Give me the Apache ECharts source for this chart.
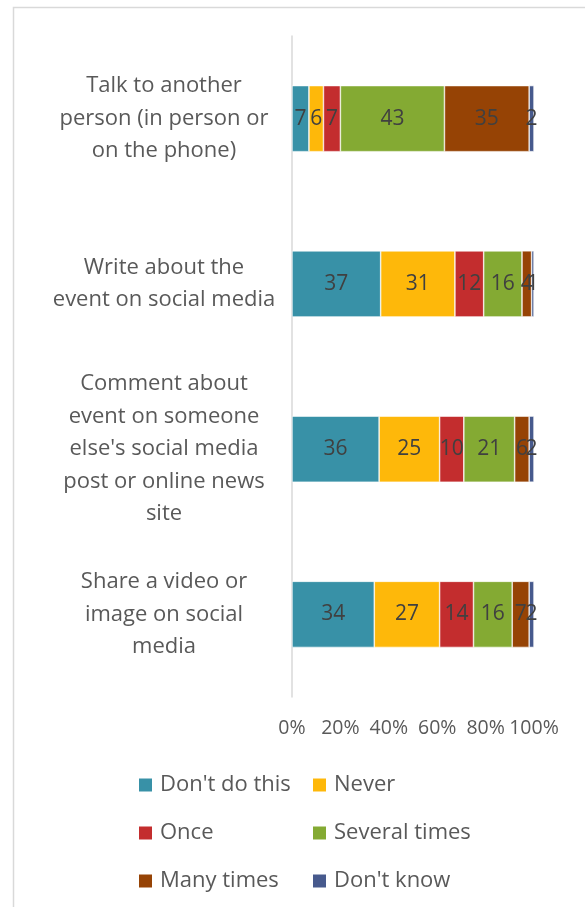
<!DOCTYPE html>
<html>
<head>
<meta charset="utf-8">
<script src="https://cdn.jsdelivr.net/npm/echarts@6/dist/echarts.min.js"></script>
<style>
  html, body { margin: 0; padding: 0; background: #ffffff; }
  #chart { width: 585px; height: 907px; }
</style>
</head>
<body>
<div id="chart"></div>
<script>
// Activities (top to bottom)
var categories = [
  "Talk to another\nperson (in person or\non the phone)",
  "Write about the\nevent on social media",
  "Comment about\nevent on someone\nelse's social media\npost or online news\nsite",
  "Share a video or\nimage on social\nmedia"
];

// Responses per activity, in the same order as the categories
var dontDoThis   = [7, 37, 36, 34];
var never        = [6, 31, 25, 27];
var once         = [7, 12, 10, 14];
var severalTimes = [43, 16, 21, 16];
var manyTimes    = [35, 4, 6, 7];
var dontKnow     = [2, 1, 2, 2];

var tickLabels = ["0%", "20%", "40%", "60%", "80%", "100%"];

var seriesDefs = [
  { name: "Don't do this", values: dontDoThis,   color: "#3891A7" },
  { name: "Never",         values: never,        color: "#FEB80A" },
  { name: "Once",          values: once,         color: "#C32D2E" },
  { name: "Several times", values: severalTimes, color: "#84AA33" },
  { name: "Many times",    values: manyTimes,    color: "#964305" },
  { name: "Don't know",    values: dontKnow,     color: "#475A8D" }
];

// Row totals, so each bar spans the full 100% width
var totals = categories.map(function (_, i) {
  return seriesDefs.reduce(function (s, d) { return s + d.values[i]; }, 0);
});

var FONT = "'Open Sans', 'Liberation Sans', sans-serif";

var series = seriesDefs.map(function (d) {
  return {
    name: d.name,
    type: "bar",
    stack: "total",
    barCategoryGap: "60%",
    itemStyle: { color: d.color, borderColor: "#ffffff", borderWidth: 0.6 },
    label: {
      show: true,
      position: "inside",
      color: "#404040",
      fontFamily: FONT,
      fontSize: 21,
      formatter: function (p) { return d.values[p.dataIndex]; }
    },
    data: d.values.map(function (v, i) { return v / totals[i] * 100; })
  };
});

var legendCommon = {
  orient: "vertical",
  itemWidth: 15,
  itemHeight: 15,
  itemGap: 26,
  icon: "rect",
  textStyle: { color: "#595959", fontFamily: FONT, fontSize: 22, padding: [0, 0, 0, 2] }
};

var chart = echarts.init(document.getElementById("chart"));
chart.setOption({
  animation: false,
  backgroundColor: "#ffffff",
  graphic: [{
    type: "rect",
    shape: { x: 13.5, y: 7.5, width: 640, height: 960 },
    style: { fill: "none", stroke: "#d9d9d9", lineWidth: 1.5 },
    silent: true
  }],
  grid: { left: 292, right: 51, top: 36, bottom: 210 },
  legend: [
    Object.assign({ left: 132, top: 769, data: ["Don't do this", "Once", "Many times"] }, legendCommon),
    Object.assign({ left: 306, top: 769, data: ["Never", "Several times", "Don't know"] }, legendCommon)
  ],
  xAxis: {
    type: "value",
    min: 0,
    max: 100,
    interval: 20,
    axisLine: { show: false },
    axisTick: { show: false },
    splitLine: { show: false },
    axisLabel: {
      color: "#595959",
      fontFamily: FONT,
      fontSize: 19.5,
      margin: 21,
      formatter: function (v) { return tickLabels[Math.round(v / 20)]; }
    }
  },
  yAxis: {
    type: "category",
    inverse: true,
    data: categories,
    axisLine: { show: true, lineStyle: { color: "#d9d9d9", width: 1.5 } },
    axisTick: { show: false },
    axisLabel: {
      color: "#595959",
      fontFamily: FONT,
      fontSize: 22,
      lineHeight: 32.5,
      align: "center",
      margin: 128
    }
  },
  series: series
});
</script>
</body>
</html>
